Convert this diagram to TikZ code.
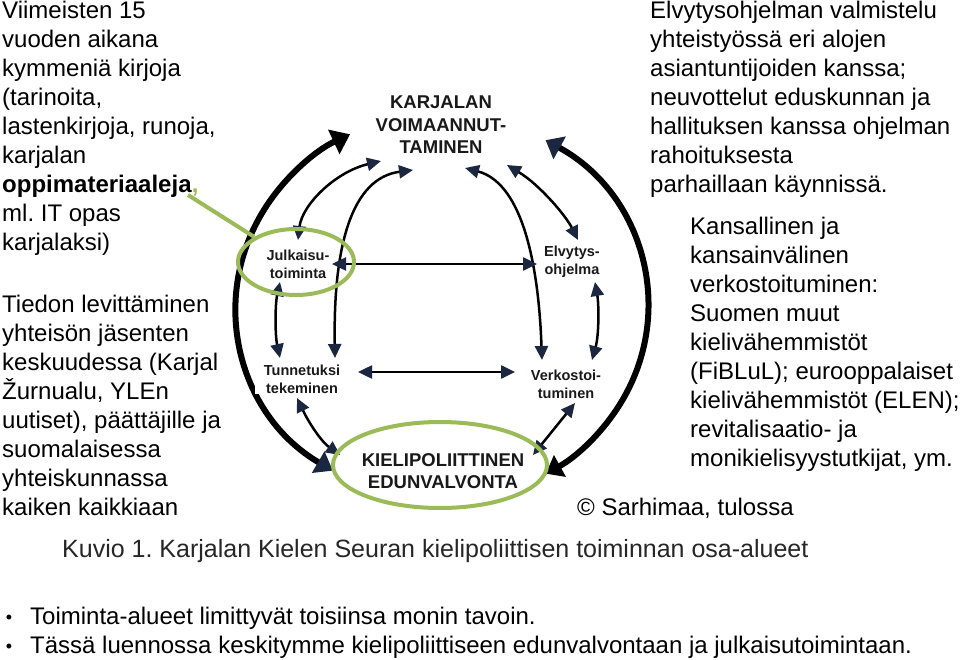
\documentclass[tikz,border=0pt]{standalone}
\usepackage{fontspec}
\setmainfont{Liberation Sans}
\usetikzlibrary{arrows.meta,shapes.geometric}
\definecolor{kgreen}{HTML}{9BBB59}
\definecolor{knavy}{HTML}{1B2740}
\frenchspacing
\begin{document}
\begin{tikzpicture}[x=1pt,y=-1pt,
  body/.style={anchor=base west, inner sep=0pt, align=left, font=\fontsize{24}{29}\selectfont},
  lbl/.style={align=center, inner sep=1pt, font=\bfseries\fontsize{14.5}{18}\selectfont, text=black!90},
  biglbl/.style={align=center, inner sep=1pt, font=\bfseries\fontsize{18.5}{22.5}\selectfont, text=black!90},
  thinarrow/.style={line width=2.5pt, {Triangle[length=14pt,width=13pt,color=knavy]}-{Triangle[length=14pt,width=13pt,color=knavy]}},
  thickarc/.style={line width=6pt},
  ring/.style={draw=kgreen, line width=4pt, ellipse, inner sep=0pt}]
\useasboundingbox (0,0) rectangle (960,660);
\fill[white] (0,0) rectangle (960,660);

% outer thick arcs
\draw[thickarc, {Triangle[length=17pt,width=24pt,color=knavy]}-{Triangle[length=18pt,width=26pt]}]
  ({442+206*cos(122)},{307+193*sin(122)}) arc[start angle=-122, end angle=-243.5, x radius=206pt, y radius=193pt];
\draw[thickarc, {Triangle[length=16pt,width=25pt,color=knavy]}-{Triangle[length=16pt,width=24pt]}]
  ({442+206*cos(59.8)},{307-193*sin(59.8)}) arc[start angle=59.8, end angle=-59.7, x radius=206pt, y radius=193pt];

% labels
\node[biglbl] (kv) at (441,125) {KARJALAN\\VOIMAANNUT-\\TAMINEN};
\node[biglbl] (ke) at (443,471) {KIELIPOLIITTINEN\\EDUNVALVONTA};
\node[lbl] (ju) at (298,264) {Julkaisu-\\toiminta};
\node[lbl] (el) at (572,262) {Elvytys-\\ohjelma};
\node[lbl, fill=white, inner xsep=9pt, inner ysep=1pt] (tu) at (302,379) {Tunnetuksi\\tekeminen};
\node[lbl] (ve) at (566,384) {Verkostoi-\\tuminen};

% endpoints of the inner connectors
\coordinate (a1) at (298,240); \coordinate (b1) at (381,161);
\coordinate (a2) at (335,358); \coordinate (b2) at (413,170);
\coordinate (a3) at (542,360); \coordinate (b3) at (465,168);
\coordinate (a4) at (578,240); \coordinate (b4) at (507,165);
\coordinate (a5) at (332,264); \coordinate (b5) at (537,264);
\coordinate (a6) at (358,372); \coordinate (b6) at (515,372);
\coordinate (a7) at (280,282); \coordinate (b7) at (280,358);
\coordinate (a8) at (595,282); \coordinate (b8) at (592,360);
\coordinate (a9) at (297,398); \coordinate (b9) at (340,455);
\coordinate (a10) at (575,403); \coordinate (b10) at (533,455);

\draw[thinarrow] (a1) .. controls (302,205) and (335,172) .. (b1);
\draw[thinarrow] (a2) .. controls (333,245) and (352,178) .. (b2);
\draw[thinarrow] (a3) .. controls (538,250) and (518,182) .. (b3);
\draw[thinarrow] (a4) .. controls (566,216) and (540,185) .. (b4);
\draw[thinarrow] (a5) -- (b5);
\draw[thinarrow] (a6) -- (b6);
\draw[thinarrow] (a7) .. controls (275,305) and (275,335) .. (b7);
\draw[thinarrow] (a8) .. controls (599,305) and (599,335) .. (b8);
\draw[thinarrow] (a9) .. controls (310,425) and (322,442) .. (b9);
\draw[thinarrow] (a10) -- (b10);

% green rings and leader
\node[ring, minimum width=116pt, minimum height=66pt] (jring) at (296,262) {};
\node[ring, minimum width=214pt, minimum height=86pt] (kring) at (440,465) {};
\coordinate (lead) at (188,195);
\draw[kgreen, line width=4pt] (lead) -- (jring.149);

% texts (anchor: baseline of the last line)
\node[body] (t1) at (2,251) {Viimeisten 15\\vuoden aikana\\kymmeniä kirjoja\\(tarinoita,\\lastenkirjoja, runoja,\\karjalan\\\textbf{oppimateriaaleja}\textcolor{kgreen}{\textbf{,}}\\ml. IT opas\\karjalaksi)};
\node[body] (t2) at (2,515) {Tiedon levittäminen\\yhteisön jäsenten\\keskuudessa (Karjal\\Žurnualu, YLEn\\uutiset), päättäjille ja\\suomalaisessa\\yhteiskunnassa\\kaiken kaikkiaan};
\node[body] (t3) at (650,193) {Elvytysohjelman valmistelu\\yhteistyössä eri alojen\\asiantuntijoiden kanssa;\\neuvottelut eduskunnan ja\\hallituksen kanssa ohjelman\\rahoituksesta\\parhaillaan käynnissä.};
\node[body] (t4) at (690,466) {Kansallinen ja\\kansainvälinen\\verkostoituminen:\\Suomen muut\\kielivähemmistöt\\(FiBLuL); eurooppalaiset\\kielivähemmistöt (ELEN);\\revitalisaatio- ja\\monikielisyystutkijat, ym.};
\node[body] (copy) at (577,515) {© Sarhimaa, tulossa};
\node[anchor=base west, inner sep=0pt, font=\fontsize{25}{30}\selectfont, text=black!85] (cap) at (62,557) {Kuvio 1. Karjalan Kielen Seuran kielipoliittisen toiminnan osa-alueet};
\node[body] (bu1) at (30,624) {Toiminta-alueet limittyvät toisiinsa monin tavoin.};
\node[body] (bu2) at (30,653) {Tässä luennossa keskitymme kielipoliittiseen edunvalvontaan ja julkaisutoimintaan.};
\node[anchor=base, inner sep=0pt, font=\fontsize{18}{20}\selectfont] (d1) at (9,623) {•};
\node[anchor=base, inner sep=0pt, font=\fontsize{18}{20}\selectfont] (d2) at (9,652) {•};
\end{tikzpicture}
\end{document}
